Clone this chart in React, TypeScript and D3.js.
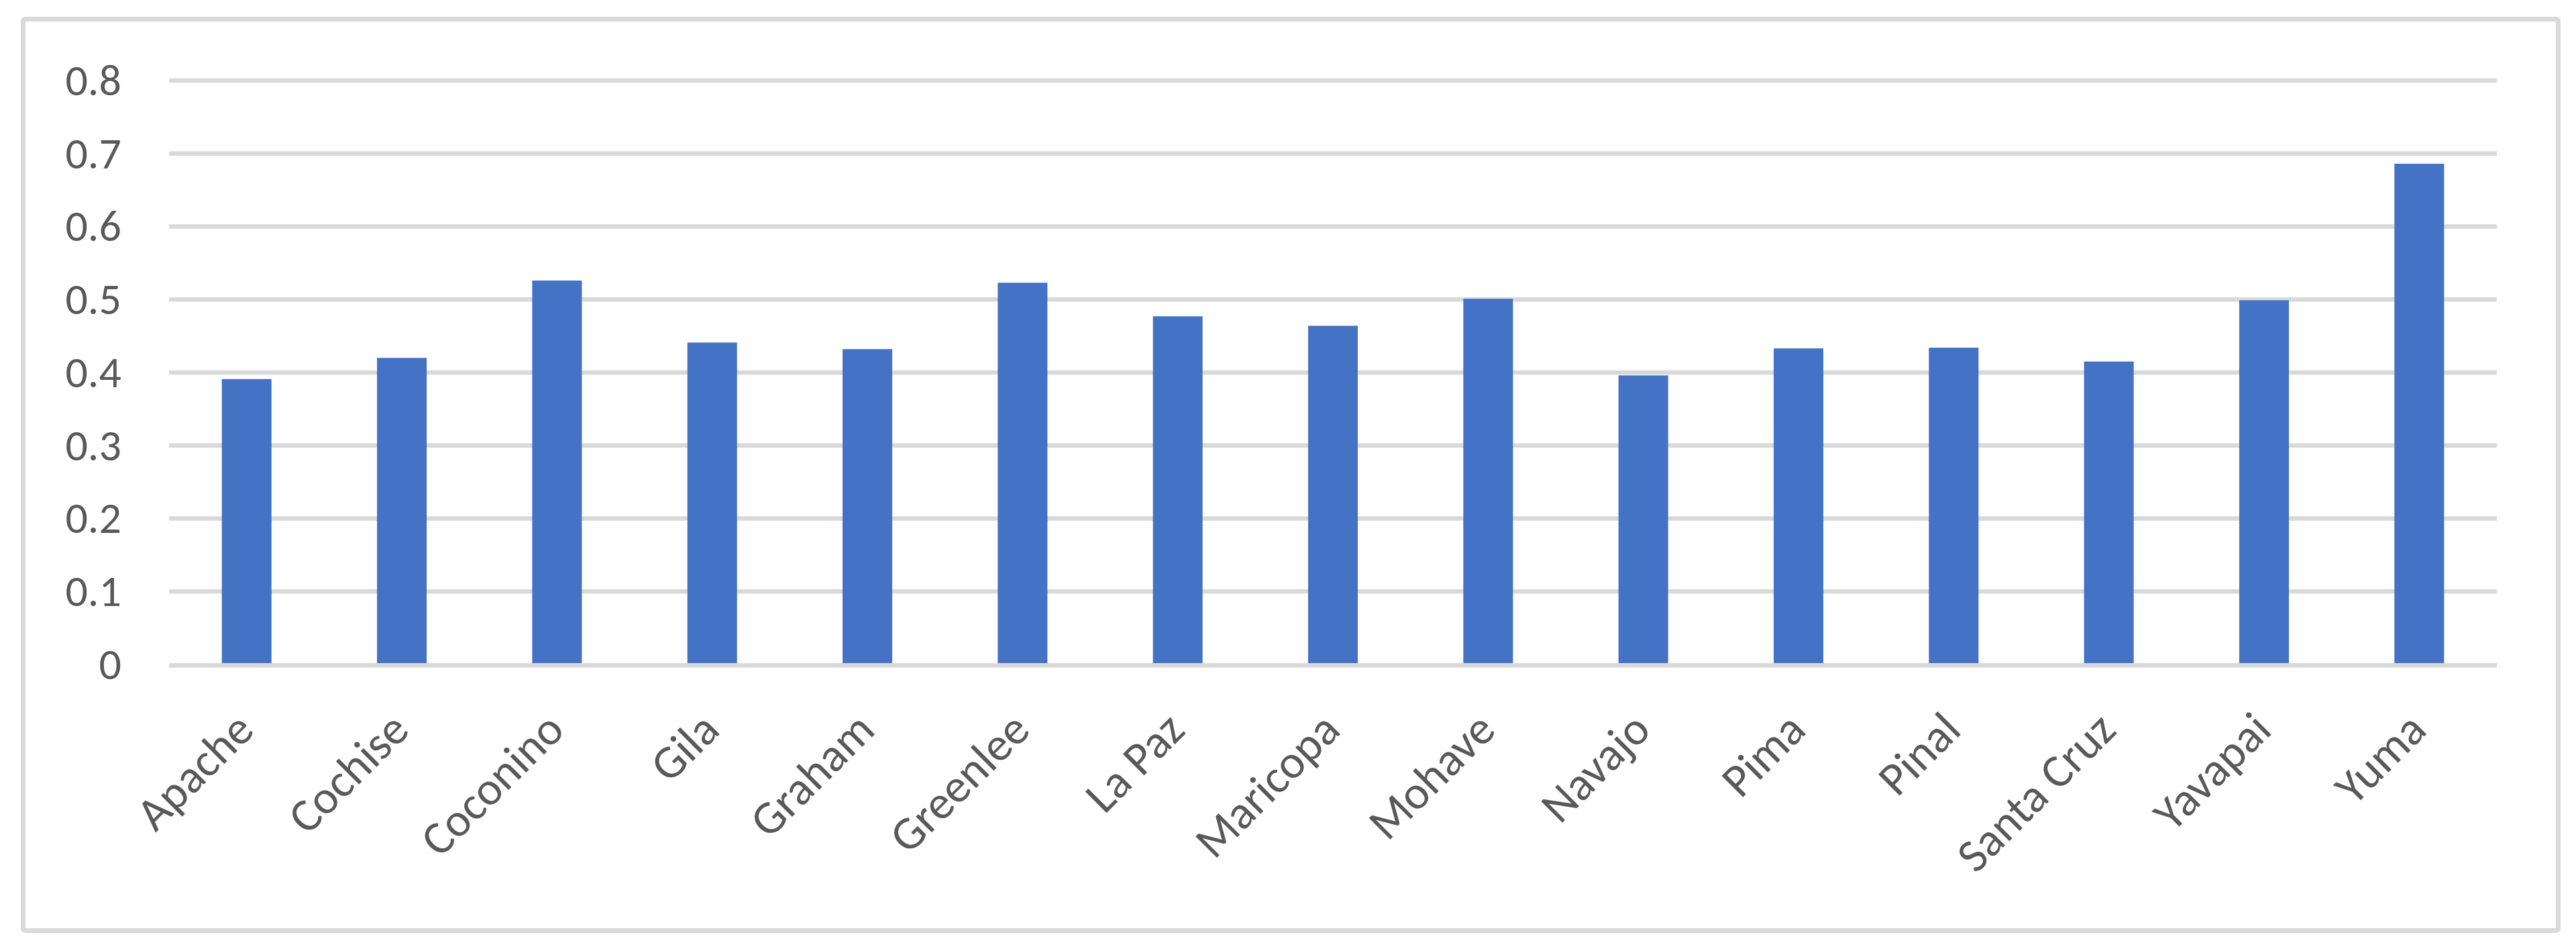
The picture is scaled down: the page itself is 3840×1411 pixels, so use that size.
import React from "react";
import * as d3 from "d3";

const counties = [
  "Apache", "Cochise", "Coconino", "Gila", "Graham", "Greenlee", "La Paz",
  "Maricopa", "Mohave", "Navajo", "Pima", "Pinal", "Santa Cruz", "Yavapai", "Yuma",
];
const values = [
  0.391, 0.420, 0.526, 0.441, 0.432, 0.523, 0.477,
  0.464, 0.501, 0.396, 0.433, 0.434, 0.415, 0.499, 0.686,
];
const yTicks = [0, 0.1, 0.2, 0.3, 0.4, 0.5, 0.6, 0.7, 0.8];
const yTickLabels = ["0", "0.1", "0.2", "0.3", "0.4", "0.5", "0.6", "0.7", "0.8"];

const W = 3840;
const H = 1411;
const FONT = "Carlito, Lato, 'Open Sans', sans-serif";
const TEXT = "#595959";
const GRID = "#d9d9d9";
const BAR = "#4472C4";

export default function App() {
  const x = d3
    .scaleBand<string>()
    .domain(counties)
    .range([252, 3722])
    .paddingInner(0.68)
    .paddingOuter(0.34);
  const y = d3.scaleLinear().domain([0, 0.8]).range([990, 120]);

  return (
    <svg
      width={W}
      height={H}
      style={{ position: "absolute", left: 0, top: 0, background: "#fff" }}
    >
      <rect x={0} y={0} width={W} height={H} fill="#fff" />
      <rect
        x={34.5}
        y={28.5}
        width={3813.5 - 34.5}
        height={1386.5 - 28.5}
        fill="#fff"
        stroke={GRID}
        strokeWidth={7}
        rx={3}
      />
      {yTicks.map((t, i) =>
        t === 0 ? null : (
          <line
            key={"g" + i}
            x1={252}
            x2={3722}
            y1={y(t)}
            y2={y(t)}
            stroke={GRID}
            strokeWidth={6.7}
          />
        )
      )}
      {counties.map((c, i) => (
        <rect
          key={"b" + c}
          x={x(c)}
          y={y(values[i])}
          width={x.bandwidth()}
          height={y(0) - y(values[i])}
          fill={BAR}
        />
      ))}
      <line
        x1={252}
        x2={3722}
        y1={y(0) + 1.3}
        y2={y(0) + 1.3}
        stroke={GRID}
        strokeWidth={6.7}
      />
      {yTicks.map((t, i) => (
        <text
          key={"t" + i}
          x={181}
          y={y(t)}
          dy="0.33em"
          textAnchor="end"
          fontFamily={FONT}
          fontSize={66}
          fill={TEXT}
        >
          {yTickLabels[i]}
        </text>
      ))}
      {counties.map((c) => {
        const cx = (x(c) as number) + x.bandwidth() / 2 + 14;
        const cy = 1091;
        return (
          <text
            key={"l" + c}
            x={cx}
            y={cy}
            transform={`rotate(-45 ${cx} ${cy})`}
            textAnchor="end"
            fontFamily={FONT}
            fontSize={70}
            fill={TEXT}
          >
            {c}
          </text>
        );
      })}
    </svg>
  );
}
